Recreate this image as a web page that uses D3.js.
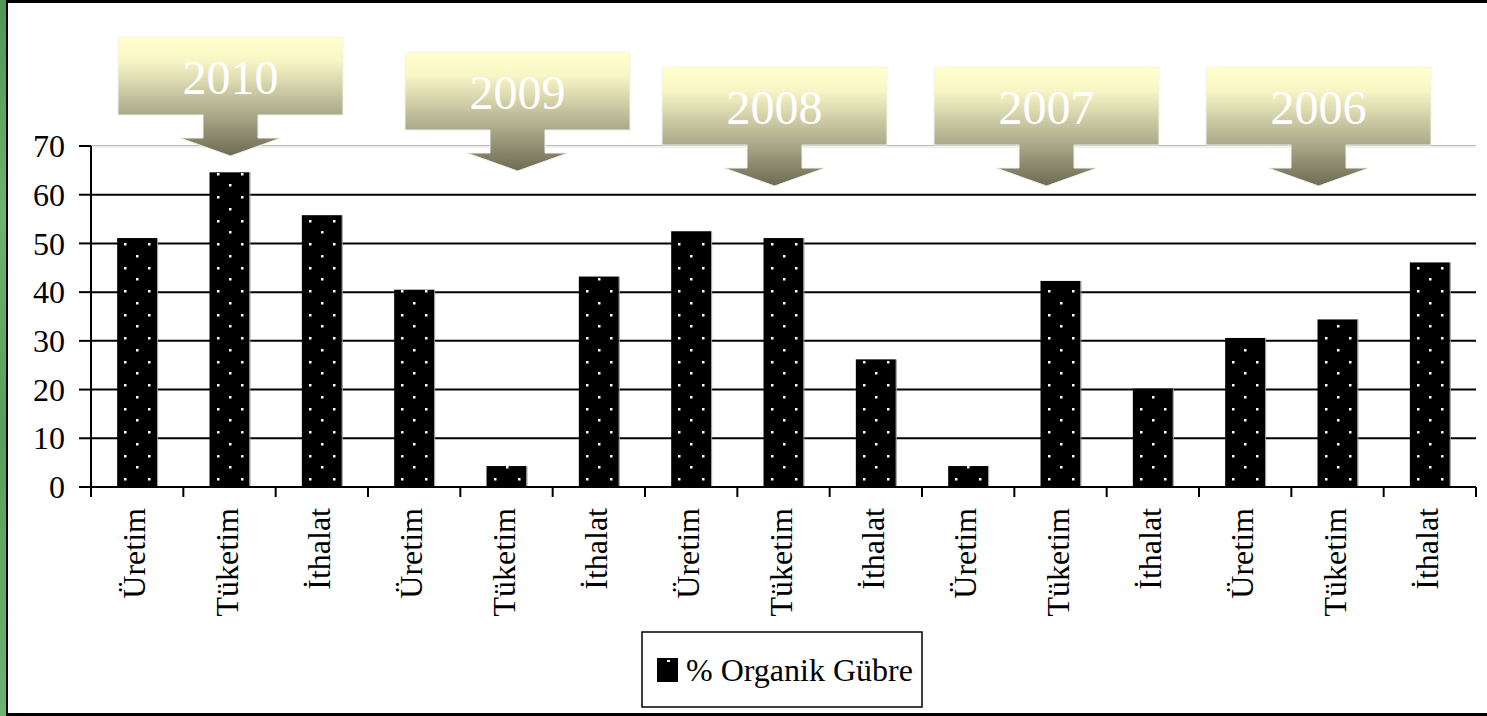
<!DOCTYPE html>
<html><head><meta charset="utf-8">
<script src="https://cdn.jsdelivr.net/npm/d3@7"></script>
<style>
html,body{margin:0;padding:0;background:#fff;overflow:hidden}
svg{display:block}
</style></head><body>
<svg id="c" width="1487" height="716" font-family="'Liberation Serif', 'DejaVu Serif', 'Noto Serif', serif"></svg>
<script>
// ---- data ----
const categories = ["Üretim","Tüketim","İthalat","Üretim","Tüketim","İthalat","Üretim","Tüketim","İthalat","Üretim","Tüketim","İthalat","Üretim","Tüketim","İthalat"];
const values = [51.1, 64.6, 55.8, 40.5, 4.3, 43.2, 52.5, 51.1, 26.2, 4.3, 42.3, 20.2, 30.6, 34.4, 46.1];
const yTicks = [0,10,20,30,40,50,60,70];
const years = ["2010","2009","2008","2007","2006"];
const seriesName = "% Organik Gübre";

// ---- layout ----
const svg = d3.select("#c");
const W = 1487, H = 716;
const x0 = 91, x1 = 1476, yTop = 146, yBot = 487;
const FONT = "'Liberation Serif', 'DejaVu Serif', serif";

const defs = svg.append("defs");
const gg = defs.append("linearGradient").attr("id","green").attr("x1",0).attr("y1",0).attr("x2",0).attr("y2",1);
gg.append("stop").attr("offset",0).attr("stop-color","#4e9558");
gg.append("stop").attr("offset",0.3).attr("stop-color","#6bb56d");
gg.append("stop").attr("offset",0.6).attr("stop-color","#579f5e");
gg.append("stop").attr("offset",1).attr("stop-color","#6cb46c");

// background frame
svg.append("rect").attr("x",0).attr("y",0).attr("width",W).attr("height",H).attr("fill","#fff");
svg.append("rect").attr("x",0).attr("y",0).attr("width",6).attr("height",H).attr("fill","url(#green)");
svg.append("rect").attr("x",6).attr("y",0).attr("width",2).attr("height",H).attr("fill","#000");
svg.append("rect").attr("x",6).attr("y",0).attr("width",W-6).attr("height",3).attr("fill","#000");
svg.append("rect").attr("x",6).attr("y",713).attr("width",W-6).attr("height",3).attr("fill","#000");

const x = d3.scaleBand().domain(d3.range(categories.length)).range([x0,x1])
  .paddingInner(0.567).paddingOuter(0.2835);
const y = d3.scaleLinear().domain([0,70]).range([yBot,yTop]);
const step = x.step();
const bw = x.bandwidth();

// gridlines
const grid = svg.append("g");
yTicks.filter(t=>t>0).forEach(t=>{
  if (t===70){
    grid.append("line").attr("x1",x0).attr("x2",x1).attr("y1",y(t)-0.5).attr("y2",y(t)-0.5).attr("stroke","#b8b8b8").attr("stroke-width",1);
    grid.append("line").attr("x1",x0).attr("x2",x1).attr("y1",y(t)+1).attr("y2",y(t)+1).attr("stroke","#e0e0e0").attr("stroke-width",1);
  } else {
    grid.append("line").attr("x1",x0).attr("x2",x1).attr("y1",y(t)).attr("y2",y(t)).attr("stroke","#000").attr("stroke-width",2);
  }
});

// bars
const bars = svg.append("g");
values.forEach((v,i)=>{
  const bx = x(i), by = y(v), bh = yBot - by;
  bars.append("rect").attr("x",bx).attr("y",by).attr("width",bw).attr("height",bh).attr("fill","#000");
  bars.append("line").attr("x1",bx+bw+0.5).attr("x2",bx+bw+0.5).attr("y1",by).attr("y2",yBot).attr("stroke","#999").attr("stroke-width",1);
  const cx = bx + bw/2;
  let row = 0;
  for (let yy = yBot - 8; yy > by + 1; yy -= 11.75, row++){
    const cols = (row % 2 === 0) ? [cx-12, cx+12] : [cx];
    cols.forEach(c=>{
      bars.append("rect").attr("x",Math.round(c)-1).attr("y",Math.round(yy)-1).attr("width",2.5).attr("height",2.5).attr("fill","#fff");
    });
  }
});

// axes
const ax = svg.append("g");
ax.append("line").attr("x1",x0).attr("x2",x0).attr("y1",yTop).attr("y2",yBot+10).attr("stroke","#000").attr("stroke-width",2);
ax.append("line").attr("x1",x0).attr("x2",x1).attr("y1",yBot).attr("y2",yBot).attr("stroke","#000").attr("stroke-width",2);
yTicks.forEach(t=>{
  ax.append("line").attr("x1",x0-12).attr("x2",x0).attr("y1",y(t)).attr("y2",y(t)).attr("stroke","#000").attr("stroke-width",2);
  ax.append("text").attr("x",65).attr("y",y(t)).attr("dy","0.35em").attr("text-anchor","end")
    .attr("font-family",FONT).attr("font-size",32).attr("fill","#000").text(t);
});
for (let i=0;i<=categories.length;i++){
  const tx = x0 + i*step;
  ax.append("line").attr("x1",tx).attr("x2",tx).attr("y1",yBot).attr("y2",yBot+10).attr("stroke","#000").attr("stroke-width",2);
}
categories.forEach((c,i)=>{
  const cx = x(i)+bw/2 - 3;
  ax.append("text").attr("transform",`translate(${cx},508) rotate(-90)`)
    .attr("text-anchor","end").attr("dy","0.35em").attr("font-family",FONT).attr("font-size",32).attr("fill","#000").text(c);
});

// callouts (annotation layout)
const cg = defs.append("linearGradient").attr("id","callout").attr("x1",0).attr("y1",0).attr("x2",0).attr("y2",1);
cg.append("stop").attr("offset",0).attr("stop-color","#ffffcc");
cg.append("stop").attr("offset",0.2).attr("stop-color","#f8f6c6");
cg.append("stop").attr("offset",0.64).attr("stop-color","#abaa8b");
cg.append("stop").attr("offset",1).attr("stop-color","#6d6c54");
const calloutCenters = [230.5, 517.5, 774.5, 1046.5, 1318.5];
const calloutTops = [37, 52, 67, 67, 67];
const bwC = 225, bhC = 78, sw = 55, sh = 23, hw = 101, hh = 18;
years.forEach((yr,k)=>{
  const cx = calloutCenters[k], t = calloutTops[k];
  const l = cx - bwC/2, r = cx + bwC/2, b = t + bhC;
  const p = [[l,t],[r,t],[r,b],[cx+sw/2,b],[cx+sw/2,b+sh],[cx+hw/2,b+sh],[cx,b+sh+hh],[cx-hw/2,b+sh],[cx-sw/2,b+sh],[cx-sw/2,b],[l,b]];
  svg.append("path").attr("d","M"+p.map(q=>q.join(",")).join("L")+"Z")
    .attr("fill","url(#callout)").attr("stroke","#f2f2ea").attr("stroke-width",1);
  svg.append("text").attr("x",cx).attr("y",t+57).attr("text-anchor","middle")
    .attr("font-family",FONT).attr("font-size",48).attr("fill","#fff").text(yr);
});

// legend
const lg = svg.append("g");
lg.append("rect").attr("x",642).attr("y",632).attr("width",280).attr("height",75).attr("fill","#fff").attr("stroke","#000").attr("stroke-width",1.5);
lg.append("rect").attr("x",657).attr("y",658).attr("width",21).attr("height",24).attr("fill","#000");
lg.append("rect").attr("x",667).attr("y",660).attr("width",3).attr("height",2).attr("fill","#fff");
lg.append("text").attr("x",686).attr("y",681).attr("font-family",FONT).attr("font-size",32).attr("fill","#000").text(seriesName);
</script>
</body></html>
